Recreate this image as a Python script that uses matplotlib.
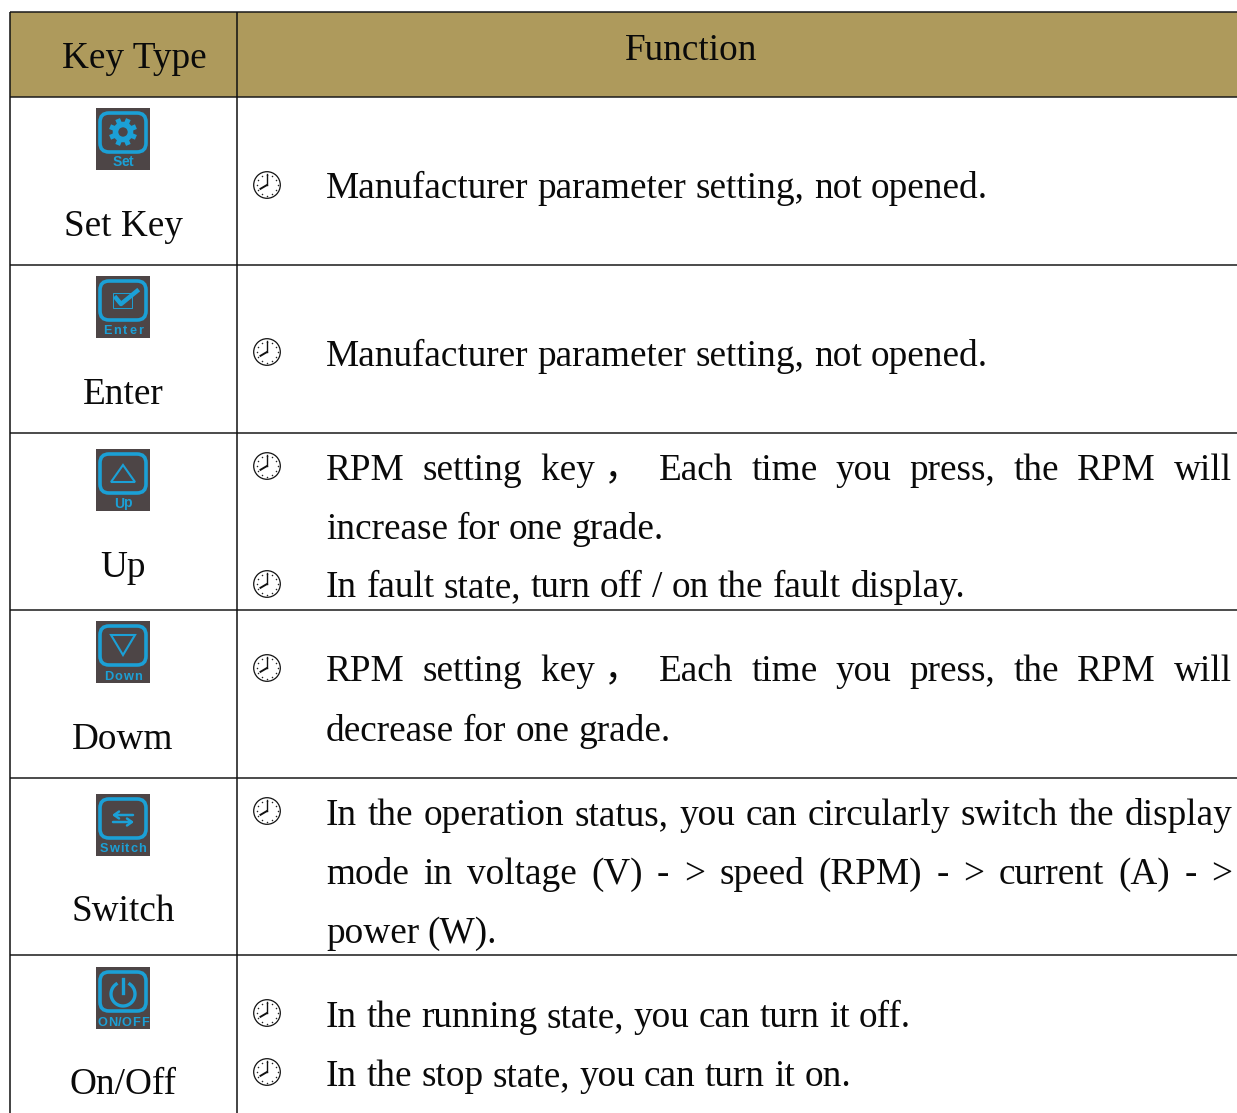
# Key function table, drawn in pixel coordinates on one full-figure axes
import matplotlib
matplotlib.use("Agg")
import matplotlib.pyplot as plt
from matplotlib.patches import Circle, FancyBboxPatch, Polygon, Rectangle
import numpy as np

FONT = ["Liberation Serif", "Noto Sans CJK SC"]
FONT_SIZE = 26.8

# table content
header_key = "Key Type"
header_function = "Function"
key_labels = ["Set Key", "Enter", "Up", "Dowm", "Switch", "On/Off"]
icon_labels = ["Set", "Enter", "Up", "Down", "Switch", "ON/OFF"]
function_lines = [
    "Manufacturer parameter setting, not opened.",
    "Manufacturer parameter setting, not opened.",
    "RPM setting key\u00a0， Each time you press, the RPM will",
    "increase for one grade.",
    "In fault state, turn off / on the fault display.",
    "RPM setting key\u00a0， Each time you press, the RPM will",
    "decrease for one grade.",
    "In the operation status, you can circularly switch the display",
    "mode in voltage (V) - > speed (RPM) - > current (A) - >",
    "power (W).",
    "In the running state, you can turn it off.",
    "In the stop state, you can turn it on.",
]

# layout, in pixels
line_baselines = [198, 366, 480, 539, 597, 681, 741, 825, 884, 943, 1027, 1086]
line_rights = [988, 988, 1232, 664, 965, 1232, 671, 1232, 1232, 497, 911, 851]
row_edges = [12, 97, 265, 433, 610, 778, 955]
label_baselines = [236, 404, 577, 749, 921, 1094]
icon_tops = [108, 276, 449, 621, 794, 967]
icon_label_widths = [21, 40, 18, 38, 46, 51]
icon_label_sizes = [10, 9.2, 10, 9.2, 9.2, 9.2]
clock_centers = [185, 352, 466, 584, 668, 811, 1013, 1072]

LEFT, MID, RIGHT, TEXT_X = 9.5, 236.5, 1237, 326
CLOCK_X, CLOCK_R = 267, 13.3
ICON_X, ICON_W, ICON_H = 96, 54, 62
HEADER_COLOR = "#AE9A5C"
ICON_BG = "#4D4546"
ICON_BLUE = "#1BA0D6"
TEXT_COLOR = "#0A0A0A"

fig = plt.figure(figsize=(12.37, 11.13), dpi=100)
ax = fig.add_axes([0, 0, 1, 1])
ax.set_xlim(0, 1237)
ax.set_ylim(1113, 0)
ax.axis("off")
renderer = fig.canvas.get_renderer()


def justified(parts, left, right, y, **style):
    items = [ax.text(left, y, w, va="baseline", ha="left", **style) for w in parts]
    if len(items) < 2:
        return
    widths = [t.get_window_extent(renderer).width for t in items]
    gap = (right - left - sum(widths)) / (len(items) - 1)
    x = left
    for t, w in zip(items, widths):
        t.set_x(x)
        x += w + gap


def clock(y):
    ax.add_patch(Circle((CLOCK_X, y), CLOCK_R, fc="white", ec="#111111", lw=0.9))
    for a in np.arange(0, 360, 30):
        r = np.radians(a)
        ax.plot(CLOCK_X + 10.5 * np.sin(r), y - 10.5 * np.cos(r), "o", ms=1.1, mew=0, color="#222222")
    ax.plot([CLOCK_X, CLOCK_X], [y, y - 11], color="#111111", lw=1.0)
    ax.plot([CLOCK_X, CLOCK_X - 6.5], [y, y + 3.8], color="#111111", lw=1.4)


def icon(top, kind, label_width, label_size):
    cx = ICON_X + ICON_W / 2
    ax.add_patch(Rectangle((ICON_X, top), ICON_W, ICON_H, fc=ICON_BG, ec="none"))
    ax.add_patch(FancyBboxPatch((ICON_X + 8.5, top + 9.5), 37, 30,
                                boxstyle="round,pad=4.5,rounding_size=9",
                                fc="none", ec=ICON_BLUE, lw=2.6))
    gy = top + 24
    if kind == "Set":
        ax.add_patch(Circle((cx, gy), 7.5, fc="none", ec=ICON_BLUE, lw=4.0))
        for a in np.arange(0, 360, 45):
            r = np.radians(a + 22.5)
            ax.plot([cx + 9 * np.cos(r), cx + 14 * np.cos(r)],
                    [gy + 9 * np.sin(r), gy + 14 * np.sin(r)],
                    color=ICON_BLUE, lw=3.6, solid_capstyle="butt")
    elif kind == "Enter":
        ax.add_patch(Rectangle((cx - 10, gy - 7), 19, 15, fc="none", ec=ICON_BLUE, lw=0.7))
        ax.plot([cx - 7, cx - 2, cx + 14], [gy - 2, gy + 4, gy - 9], color=ICON_BLUE, lw=3.2)
    elif kind == "Up":
        ax.add_patch(Polygon([(cx, gy - 8), (cx - 12, gy + 9), (cx + 12, gy + 9)],
                             fc="none", ec=ICON_BLUE, lw=1.5))
    elif kind == "Down":
        ax.add_patch(Polygon([(cx, gy + 10), (cx - 12, gy - 10), (cx + 12, gy - 10)],
                             fc="none", ec=ICON_BLUE, lw=1.5))
    elif kind == "Switch":
        ax.annotate("", (cx - 11, gy - 3), (cx + 10, gy - 3),
                    arrowprops=dict(arrowstyle="->,head_length=0.35,head_width=0.25",
                                    color=ICON_BLUE, lw=1.8, shrinkA=0, shrinkB=0))
        ax.annotate("", (cx + 11, gy + 4), (cx - 10, gy + 4),
                    arrowprops=dict(arrowstyle="->,head_length=0.35,head_width=0.25",
                                    color=ICON_BLUE, lw=1.8, shrinkA=0, shrinkB=0))
    else:
        theta = np.radians(np.linspace(-55, 235, 60))
        ax.plot(cx + 12 * np.cos(theta), gy + 3 + 12 * np.sin(theta), color=ICON_BLUE, lw=2.4)
        ax.plot([cx, cx], [gy - 12, gy + 2], color=ICON_BLUE, lw=2.4)
    # the small caption is letter-spaced in the original
    justified(list(kind), cx - label_width / 2, cx + label_width / 2, top + 58.5,
              family="Liberation Sans", weight="bold", fontsize=label_size, color=ICON_BLUE)


# header band
ax.add_patch(Rectangle((LEFT, row_edges[0]), RIGHT - LEFT, row_edges[1] - row_edges[0],
                       fc=HEADER_COLOR, ec="none"))

# grid lines
for y in row_edges:
    ax.plot([LEFT, RIGHT], [y, y], color="#1A1A1A", lw=1.1, solid_capstyle="butt")
for x in [LEFT, MID]:
    ax.plot([x, x], [row_edges[0], 1113], color="#111111", lw=1.1, solid_capstyle="butt")

# header text
ax.text(134, 68, header_key, family=FONT, fontsize=FONT_SIZE, color=TEXT_COLOR, ha="center", va="baseline")
ax.text(691, 60, header_function, family=FONT, fontsize=FONT_SIZE, color=TEXT_COLOR, ha="center", va="baseline")

# key column
for label, y in zip(key_labels, label_baselines):
    ax.text(123, y, label, family=FONT, fontsize=FONT_SIZE, color=TEXT_COLOR, ha="center", va="baseline")
for kind, top, w, s in zip(icon_labels, icon_tops, icon_label_widths, icon_label_sizes):
    icon(top, kind, w, s)

# function column
for line, right, y in zip(function_lines, line_rights, line_baselines):
    justified(line.split(" "), TEXT_X, right, y, family=FONT, fontsize=FONT_SIZE, color=TEXT_COLOR)
for y in clock_centers:
    clock(y)

fig.savefig("out.png", dpi=100, facecolor="white")
